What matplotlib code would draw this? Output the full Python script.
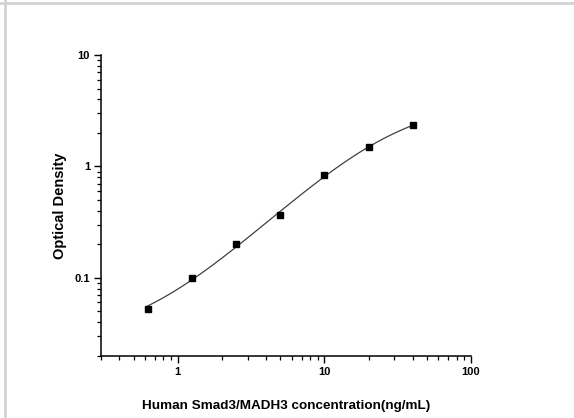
import numpy as np
import matplotlib
matplotlib.use('Agg')
import matplotlib.pyplot as plt
from matplotlib.lines import Line2D
from matplotlib.ticker import LogLocator, FixedLocator, FixedFormatter, NullFormatter

plt.rcParams['font.family'] = ['Liberation Sans', 'DejaVu Sans']

# === DATOS ===
conc = [0.625, 1.25, 2.5, 5, 10, 20, 40]
od = [0.0527, 0.0994, 0.202, 0.365, 0.834, 1.487, 2.342]
x_ticks = [1, 10, 100]
x_labels = ['1', '10', '100']
y_ticks = [0.1, 1, 10]
y_labels = ['0.1', '1', '10']


# === AJUSTE 4PL (Levenberg-Marquardt simple con numpy) ===
def logistic4(p, x):
    a, b, logc, d = p
    return d + (a - d) / (1 + (x / np.exp(logc)) ** b)


def fit4pl(x, y):
    x = np.asarray(x, float)
    y = np.asarray(y, float)
    p = np.array([min(y) * 0.5, 1.0, np.log(np.median(x)), max(y) * 1.5])
    lam = 1e-2
    err = np.sum((logistic4(p, x) - y) ** 2)
    for _ in range(500):
        r = logistic4(p, x) - y
        J = np.zeros((len(x), 4))
        for k in range(4):
            dp = np.zeros(4)
            dp[k] = 1e-6 * max(1.0, abs(p[k]))
            J[:, k] = (logistic4(p + dp, x) - logistic4(p, x)) / dp[k]
        H = J.T @ J
        g = J.T @ r
        step = np.linalg.solve(H + lam * np.diag(np.diag(H)), -g)
        p_new = p + step
        err_new = np.sum((logistic4(p_new, x) - y) ** 2)
        if np.isfinite(err_new) and err_new < err:
            p, err = p_new, err_new
            lam *= 0.3
        else:
            lam *= 10
    return p


params = fit4pl(conc, od)
x_fit = np.geomspace(conc[0], conc[-1], 300)
y_fit = logistic4(params, x_fit)

# === FIGURA ===
fig = plt.figure(figsize=(5.74, 4.18), dpi=100)
ax = fig.add_axes([0.176, 0.1495, 0.6446, 0.7185])

ax.plot(x_fit, y_fit, color='#404040', lw=0.9)
ax.plot(conc, od, 's', color='black', ms=4.2)

ax.set_xscale('log')
ax.set_yscale('log')
ax.set_xlim(0.3, 100)
ax.set_ylim(0.02, 10)

ax.xaxis.set_major_locator(FixedLocator(x_ticks))
ax.xaxis.set_major_formatter(FixedFormatter(x_labels))
ax.xaxis.set_minor_locator(LogLocator(base=10, subs=np.arange(2, 10)))
ax.xaxis.set_minor_formatter(NullFormatter())
ax.yaxis.set_major_locator(FixedLocator(y_ticks))
ax.yaxis.set_major_formatter(FixedFormatter(y_labels))
ax.yaxis.set_minor_locator(LogLocator(base=10, subs=np.arange(2, 10)))
ax.yaxis.set_minor_formatter(NullFormatter())

for s in ['top', 'right']:
    ax.spines[s].set_visible(False)
for s in ['left', 'bottom']:
    ax.spines[s].set_linewidth(1.1)

ax.tick_params(which='major', direction='out', length=5, width=1.0,
               labelsize=8, pad=3)
ax.tick_params(which='minor', direction='out', length=3, width=0.9)
for lab in ax.get_xticklabels() + ax.get_yticklabels():
    lab.set_fontweight('bold')

ax.set_xlabel('Human Smad3/MADH3 concentration(ng/mL)', fontsize=9.7,
              fontweight='bold', labelpad=17)
ax.set_ylabel('Optical Density', fontsize=10.5, fontweight='bold', labelpad=5)

# marco gris de la captura
fig.add_artist(Line2D([0, 1], [0.994, 0.994], transform=fig.transFigure,
                      color='#d3d3d3', lw=2))
fig.add_artist(Line2D([0.008, 0.008], [0, 1], transform=fig.transFigure,
                      color='#d3d3d3', lw=2))

fig.savefig('out.png', dpi=100)
